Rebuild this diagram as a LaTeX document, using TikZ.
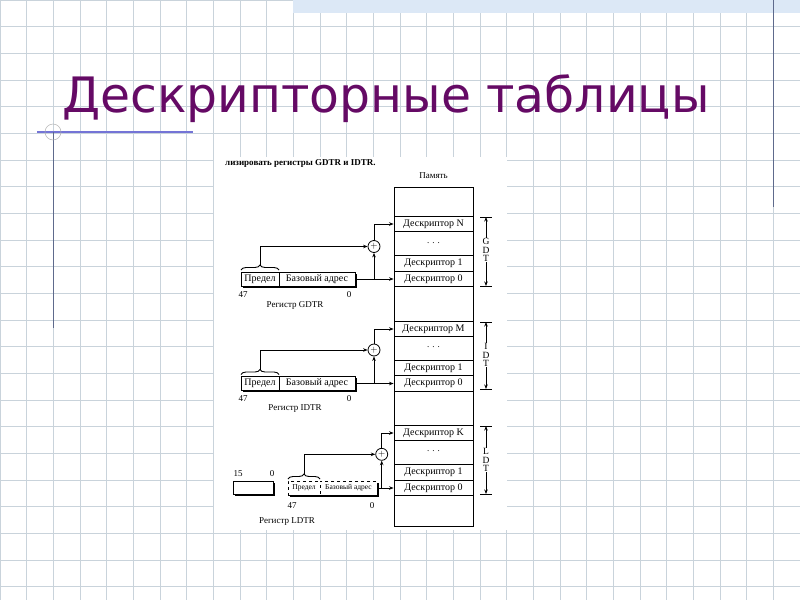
\documentclass[tikz,border=0pt]{standalone}
\usepackage{fontspec}
\setmainfont{Liberation Serif}
\newfontfamily\titlefont{DejaVu Sans}
\usetikzlibrary{arrows.meta,positioning,calc,decorations.pathreplacing,shadows}

\definecolor{gridcol}{HTML}{C9D3DB}
\definecolor{titlecol}{HTML}{650A65}
\definecolor{bandcol}{HTML}{DCE8F6}
\definecolor{rulecol}{HTML}{7474D6}
\definecolor{edgecol}{HTML}{5E6A8C}

\begin{document}
\begin{tikzpicture}[x=1pt, y=-1pt,
    gridline/.style={gridcol, line width=0.7pt},
    row/.style={draw, line width=0.9pt, minimum width=79pt, minimum height=15.5pt, inner sep=0pt, font=\fontsize{10}{10}\selectfont},
    cell/.style={draw, fill=white, line width=0.9pt, minimum height=14pt, inner sep=0pt, outer sep=0pt, font=\fontsize{10}{10}\selectfont},
    shade/.style={drop shadow={shadow xshift=1.8pt, shadow yshift=-1.8pt, fill=black, opacity=1}},
    adder/.style={draw, fill=white, circle, line width=0.8pt, minimum size=12pt, inner sep=0pt, font=\fontsize{9}{9}\selectfont},
    arr/.style={-{Stealth[length=4.5pt, width=3.5pt]}, line width=0.8pt},
    lbl/.style={font=\fontsize{9}{10}\selectfont, inner sep=0pt},
    tbl/.style={fill=white, inner sep=0.5pt, align=center, font=\fontsize{9.5}{8.5}\selectfont},
    brc/.style={decorate, decoration={brace, amplitude=5pt}, line width=0.9pt}
]
\useasboundingbox (0,0) rectangle (800,600);
\fill[white] (0,0) rectangle (800,600);

% slide background
\foreach \i in {0,...,30} \draw[gridline] (\i*26.667,0) -- (\i*26.667,600);
\foreach \j in {0,...,22} \draw[gridline] (0,\j*26.667) -- (800,\j*26.667);
\fill[bandcol] (293,0) rectangle (800,13);
\draw[edgecol, line width=1pt] (773,0) -- (773,207);
\draw[rulecol, line width=1.2pt] (37,132) -- (193,132);
\draw[edgecol, line width=1pt] (53,132) -- (53,328);
\draw[gray!60, line width=0.5pt] (53,132) circle (8);

\node[anchor=base west, inner sep=0pt, text=titlecol, font=\titlefont\fontsize{48.8}{48}\selectfont] (title) at (62,112) {Дескрипторные таблицы};

% scanned figure
\fill[white] (214,157) rectangle (507,530);
\node[lbl, anchor=west, font=\bfseries\fontsize{9}{10}\selectfont] (cap) at (225,163) {лизировать регистры GDTR и IDTR.};

\node[draw, line width=1pt, minimum width=79pt, minimum height=339pt, inner sep=0pt] (mem) at (433.5,356.5) {};
\node[lbl, above=8pt of mem] (memlbl) {Память};

\node[row] (gN) at (433.5,224) {Дескриптор N};
\node[lbl] (gdots) at (433.5,243) {. . .};
\node[row] (g1) at (433.5,263.5) {Дескриптор 1};
\node[row] (g0) at (433.5,279) {Дескриптор 0};

\node[row] (iM) at (433.5,329) {Дескриптор M};
\node[lbl] (idots) at (433.5,347.5) {. . .};
\node[row] (i1) at (433.5,368) {Дескриптор 1};
\node[row] (i0) at (433.5,383.5) {Дескриптор 0};

\node[row] (lK) at (433.5,433) {Дескриптор K};
\node[lbl] (ldots) at (433.5,451.5) {. . .};
\node[row] (l1) at (433.5,472.25) {Дескриптор 1};
\node[row] (l0) at (433.5,488) {Дескриптор 0};

% table spans
\node[tbl] (gdt) at (486,250) {G\\D\\T};
\coordinate (gdttop) at (486,217);
\coordinate (gdtbot) at (486,286);
\node[tbl] (idt) at (486,355) {I\\D\\T};
\coordinate (idttop) at (486,322);
\coordinate (idtbot) at (486,389);
\node[tbl] (ldt) at (486,460) {L\\D\\T};
\coordinate (ldttop) at (486,426);
\coordinate (ldtbot) at (486,494);
\foreach \t in {gdt,idt,ldt} {
  \draw[arr] (\t.north) -- (\t top);
  \draw[arr] (\t.south) -- (\t bot);
  \draw[line width=0.8pt] (\t top) ++(-6,0) -- ++(12,0);
  \draw[line width=0.8pt] (\t bot) ++(-6,0) -- ++(12,0);
}

% GDTR
\node[cell, shade, minimum width=38pt] (gpred) at (260,279) {Предел};
\node[cell, shade, minimum width=76pt, right=0pt of gpred] (gbase) {Базовый адрес};
\node[lbl] (g47) at (243,295) {47};
\node[lbl] (gz) at (349,295) {0};
\node[lbl] (greg) at (295,305) {Регистр GDTR};
\node[adder] (gadd) at (374,246.5) {$+$};
\draw[brc] ([yshift=2pt]gpred.north west) -- ([yshift=2pt]gpred.north east);
\coordinate (gtip) at ([yshift=7pt]gpred.north);
\draw[arr] (gtip) |- (gadd.west);
\draw[arr] (gbase.east) -- (g0.west);
\draw[arr] (gadd |- gbase.east) -- (gadd.south);
\draw[arr] (gadd.north) |- (gN.west);

% IDTR
\node[cell, shade, minimum width=38pt] (ipred) at (260,383.5) {Предел};
\node[cell, shade, minimum width=76pt, right=0pt of ipred] (ibase) {Базовый адрес};
\node[lbl] (i47) at (243,399) {47};
\node[lbl] (iz) at (349,399) {0};
\node[lbl] (ireg) at (295,409) {Регистр IDTR};
\node[adder] (iadd) at (374,350) {$+$};
\draw[brc] ([yshift=2pt]ipred.north west) -- ([yshift=2pt]ipred.north east);
\coordinate (itip) at ([yshift=7pt]ipred.north);
\draw[arr] (itip) |- (iadd.west);
\draw[arr] (ibase.east) -- (i0.west);
\draw[arr] (iadd |- ibase.east) -- (iadd.south);
\draw[arr] (iadd.north) |- (iM.west);

% LDTR
\node[cell, shade, minimum width=40pt, minimum height=13pt] (lsel) at (253,487.5) {};
\node[lbl] (l15) at (238,474) {15};
\node[lbl] (lsz) at (272,474) {0};
\node[cell, dashed, shade, minimum width=32pt, font=\fontsize{7.5}{8}\selectfont] (lpred) at (304,488) {Предел};
\node[cell, dashed, shade, minimum width=57pt, font=\fontsize{7.5}{8}\selectfont, right=0pt of lpred] (lbase) {Базовый адрес};
\node[lbl] (l47) at (292,506) {47};
\node[lbl] (lz) at (372,506) {0};
\node[lbl] (lreg) at (287,522) {Регистр LDTR};
\node[adder] (ladd) at (381.7,454.3) {$+$};
\draw[brc] ([yshift=2pt]lpred.north west) -- ([yshift=2pt]lpred.north east);
\coordinate (ltip) at ([yshift=7pt]lpred.north);
\draw[arr] (ltip) |- (ladd.west);
\draw[arr] (lbase.east) -- (l0.west);
\draw[arr] (ladd |- lbase.east) -- (ladd.south);
\draw[arr] (ladd.north) |- (lK.west);
\end{tikzpicture}
\end{document}
